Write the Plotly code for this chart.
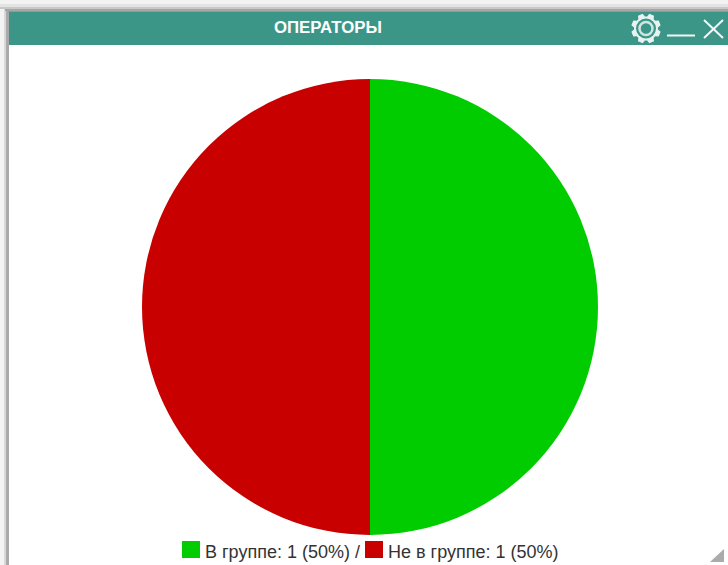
import math
import plotly.graph_objects as go

# Data
categories = ["В группе", "Не в группе"]
values = [1, 1]
percents = [50, 50]
colors = ["#00cc00", "#c80000"]
title_text = "ОПЕРАТОРЫ"

W, H = 728, 565
FONT = "Liberation Sans, Arial, sans-serif"
TEAL = "#3b9688"


def X(px):
    return px / W


def Y(py):
    return 1 - py / H


fig = go.Figure(
    go.Pie(
        labels=categories,
        values=values,
        sort=False,
        direction="clockwise",
        rotation=0,
        textinfo="none",
        hoverinfo="label+value+percent",
        marker=dict(colors=colors, line=dict(width=0)),
        domain=dict(x=[X(142), X(598)], y=[Y(535), Y(79)]),
        showlegend=False,
    )
)

shapes = []


def rect(x0, y0, x1, y1, color, layer="below"):
    shapes.append(dict(type="rect", xref="paper", yref="paper",
                       x0=X(x0), x1=X(x1), y0=Y(y0), y1=Y(y1),
                       fillcolor=color, line=dict(width=0), layer=layer))


# Page backdrop and the window's soft shadow
rect(0, 0, W, H, "#f3f3f3")
rect(0, 4, W, 7, "#e4e4e4")
rect(0, 7, W, 9, "#c8c8c8")
rect(4, 9, W, H, "#d8d8d8")
rect(5, 9, W, 11, "#a6a6a6")
rect(6, 11, 9, H, "#a9a9a9")
rect(8, 11, W, 12, "#8f9d99")
rect(9, 12, W, H, "#ffffff")
rect(9, 12, W, 45, TEAL)

# Gear icon
cx, cy = 646, 28.5
pts = []
for i in range(8):
    a = i * math.pi / 8 * 2 + math.pi / 8
    for da, r in [(-0.30, 12), (-0.17, 15), (0.17, 15), (0.30, 12)]:
        pts.append((cx + r * math.cos(a + da), cy + r * math.sin(a + da)))
gear = "M " + " L ".join(f"{X(px)} {Y(py)}" for px, py in pts) + " Z"
shapes.append(dict(type="path", xref="paper", yref="paper", path=gear,
                   fillcolor="#e8f3f1", line=dict(width=0)))


def disc(r, fill, line_color=None, width=0):
    shapes.append(dict(type="circle", xref="paper", yref="paper",
                       x0=X(cx - r), x1=X(cx + r), y0=Y(cy + r), y1=Y(cy - r),
                       fillcolor=fill, line=dict(color=line_color or fill, width=width)))


disc(10, TEAL)
disc(6.5, TEAL, "#cfe5e1", 2.5)


def line(x0, y0, x1, y1, width):
    shapes.append(dict(type="line", xref="paper", yref="paper",
                       x0=X(x0), x1=X(x1), y0=Y(y0), y1=Y(y1),
                       line=dict(color="#f2f8f7", width=width)))


# Minimise and close icons
line(667, 35.5, 695, 35.5, 2)
line(704, 20, 723, 38, 2)
line(723, 20, 704, 38, 2)

# Legend swatches
rect(182, 541, 200, 558, colors[0], "above")
rect(365, 541, 383, 558, colors[1], "above")

# Resize grip
shapes.append(dict(type="path", xref="paper", yref="paper",
                   path=f"M {X(724)} {Y(549)} L {X(724)} {Y(562)} L {X(710)} {Y(562)} Z",
                   fillcolor="#ababab", line=dict(width=0)))

annotations = [
    dict(text=f"<b>{title_text}</b>", x=X(328), y=Y(27.5), xref="paper", yref="paper",
         showarrow=False, xanchor="center", yanchor="middle",
         font=dict(family=FONT, size=16.8, color="#ffffff")),
    dict(text=f"{categories[0]}: {values[0]} ({percents[0]}%) /", x=X(204), y=Y(552),
         xref="paper", yref="paper", showarrow=False, xanchor="left", yanchor="middle",
         font=dict(family=FONT, size=18, color="#333333")),
    dict(text=f"{categories[1]}: {values[1]} ({percents[1]}%)", x=X(387), y=Y(552),
         xref="paper", yref="paper", showarrow=False, xanchor="left", yanchor="middle",
         font=dict(family=FONT, size=18, color="#333333")),
]
for a in annotations:
    a["borderpad"] = 0

fig.update_layout(
    width=W, height=H, autosize=False,
    margin=dict(l=0, r=0, t=0, b=0, pad=0),
    paper_bgcolor="#ffffff",
    plot_bgcolor="#ffffff",
    shapes=shapes,
    annotations=annotations,
)
fig.write_html(
    "out.html",
    config={"displayModeBar": False},
    post_script="document.body.style.margin='0';document.body.style.overflow='hidden';",
)
